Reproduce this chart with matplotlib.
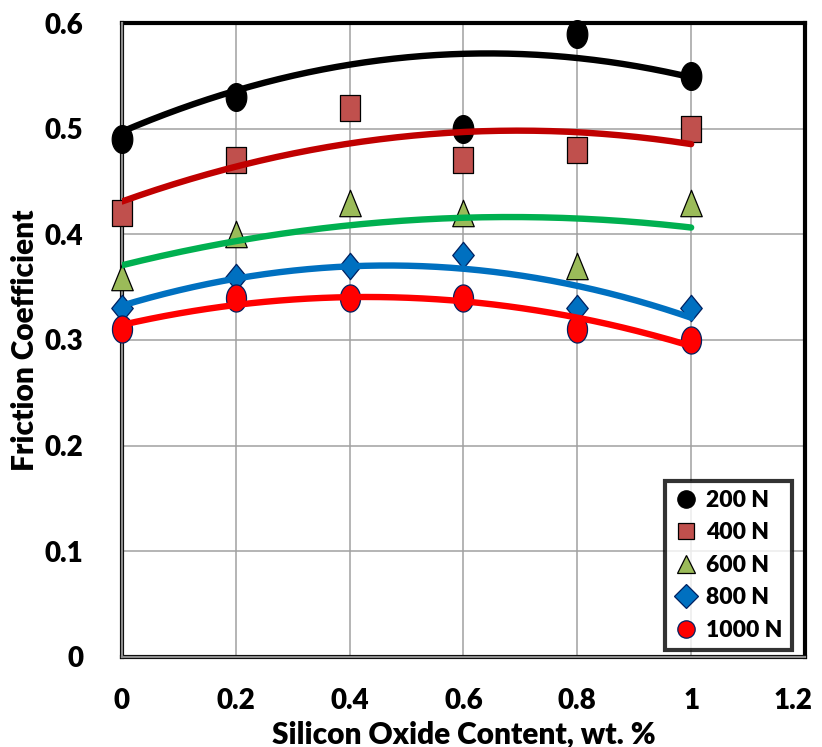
import numpy as np
import matplotlib
matplotlib.use("Agg")
import matplotlib.pyplot as plt
from matplotlib.path import Path
from matplotlib.lines import Line2D
from matplotlib.transforms import ScaledTranslation

# SiO2 content (wt. %) and friction coefficient for each normal load
silica = [0, 0.2, 0.4, 0.6, 0.8, 1.0]
loads = ["200 N", "400 N", "600 N", "800 N", "1000 N"]
mu_200 = [0.49, 0.53, 0.62, 0.50, 0.59, 0.55]
mu_400 = [0.42, 0.47, 0.52, 0.47, 0.48, 0.50]
mu_600 = [0.36, 0.40, 0.43, 0.42, 0.37, 0.43]
mu_800 = [0.33, 0.36, 0.37, 0.38, 0.33, 0.33]
mu_1000 = [0.31, 0.34, 0.34, 0.34, 0.31, 0.30]

x_ticks = [0, 0.2, 0.4, 0.6, 0.8, 1.0, 1.2]
x_tick_labels = ["0", "0.2", "0.4", "0.6", "0.8", "1", "1.2"]
y_ticks = [0, 0.1, 0.2, 0.3, 0.4, 0.5, 0.6]
y_tick_labels = ["0", "0.1", "0.2", "0.3", "0.4", "0.5", "0.6"]

FONT = ["Lato", "DejaVu Sans"]
WEIGHT = "heavy"
plt.rcParams["font.family"] = FONT
plt.rcParams["font.weight"] = WEIGHT

# Marker outlines, slightly taller than wide
TALL = 1.35


def tall(verts):
    v = np.asarray(verts, float) * [1.0, TALL]
    return Path(np.vstack([v, v[:1]]), closed=True)


_t = np.linspace(0, 2 * np.pi, 73)[:-1]
m_circle = tall(np.column_stack([np.cos(_t), np.sin(_t)]))
m_square = tall([[-1, -1], [1, -1], [1, 1], [-1, 1]])
m_triangle = tall([[0, 1], [-1.1, -1], [1.1, -1]])
m_diamond = tall([[0, 1], [1.1, 0], [0, -1], [-1.1, 0]])

series = [
    # values, marker, legend marker, size, fill, edge, trend colour
    (mu_200, m_circle, "o", 20.0, "#000000", "#000000", "#000000"),
    (mu_400, m_square, "s", 19.0, "#C0504D", "#000000", "#C00000"),
    (mu_600, m_triangle, "^", 19.0, "#9BBB59", "#000000", "#00B050"),
    (mu_800, m_diamond, "D", 19.0, "#0070C0", "#002060", "#0070C0"),
    (mu_1000, m_circle, "o", 19.5, "#FF0000", "#002060", "#FF0000"),
]
legend_sizes = [12.5, 11.5, 12.5, 12, 12.5]

fig = plt.figure(figsize=(8.22, 7.47), dpi=100)
ax = fig.add_axes([0.1484, 0.1205, 0.8309, 0.8487])

YMAX = 0.6
x = np.asarray(silica)
xs = np.linspace(0, 1, 200)

handles = []
for (vals, mk, lmk, ms, fc, ec, lc), name, lms in zip(series, loads, legend_sizes):
    y = np.asarray(vals)
    # points above the axis limit are not drawn; they still enter the fit
    keep = y <= YMAX + 1e-9
    ax.plot(x[keep], y[keep], linestyle="none", marker=mk, markersize=ms,
            markerfacecolor=fc, markeredgecolor=ec, markeredgewidth=0.9,
            zorder=3, clip_on=False)
    handles.append(Line2D([], [], linestyle="none", marker=lmk, markersize=lms,
                          markerfacecolor=fc, markeredgecolor=ec,
                          markeredgewidth=0.9, label=name))

# second-order polynomial trend lines, drawn over all markers
for vals, *_rest in series:
    coef = np.polyfit(x, np.asarray(vals), 2)
    ax.plot(xs, np.polyval(coef, xs), color=_rest[-1], linewidth=4.6,
            solid_capstyle="round", zorder=4)

ax.set_xlim(0, 1.2)
ax.set_ylim(0, YMAX)
ax.set_xticks(x_ticks)
ax.set_xticklabels(x_tick_labels)
ax.set_yticks(y_ticks)
ax.set_yticklabels(y_tick_labels)
ax.tick_params(axis="x", length=0, labelsize=20, pad=22)
ax.tick_params(axis="y", length=0, labelsize=20, pad=28)
for lab in ax.get_xticklabels() + ax.get_yticklabels():
    lab.set_fontweight(WEIGHT)
# keep the last category label inside the figure
last = ax.get_xticklabels()[-1]
last.set_transform(last.get_transform()
                   + ScaledTranslation(-9 / 72, 0, fig.dpi_scale_trans))

ax.grid(True, color="#A0A0A0", linewidth=1.1, zorder=0)
ax.set_axisbelow(True)

for side in ["top", "right", "left", "bottom"]:
    ax.spines[side].set_color("black")
    ax.spines[side].set_linewidth(3.0)
    ax.spines[side].set_zorder(2.5)
# gray axis lines along the left and bottom edges
ax.axvline(0, color="#8C8C8C", linewidth=1.6, zorder=2.6, clip_on=False)
ax.axhline(0, color="#8C8C8C", linewidth=1.6, zorder=2.6, clip_on=False)

ax.set_xlabel("Silicon Oxide Content, wt. %", fontsize=21.5, fontweight=WEIGHT,
              labelpad=5)
ax.set_ylabel("Friction Coefficient", fontsize=21.5, fontweight=WEIGHT,
              labelpad=4)

leg = ax.legend(handles=handles, loc="lower right",
                bbox_to_anchor=(0.981, 0.011), fontsize=16.5, frameon=True,
                fancybox=False, handlelength=1.0, handletextpad=0.4,
                labelspacing=0.5, borderpad=0.4, borderaxespad=0.0)
leg.get_frame().set_edgecolor("black")
leg.get_frame().set_linewidth(3.0)
leg.set_zorder(6)
for txt in leg.get_texts():
    txt.set_fontweight(WEIGHT)

fig.savefig("out.png", dpi=100)
